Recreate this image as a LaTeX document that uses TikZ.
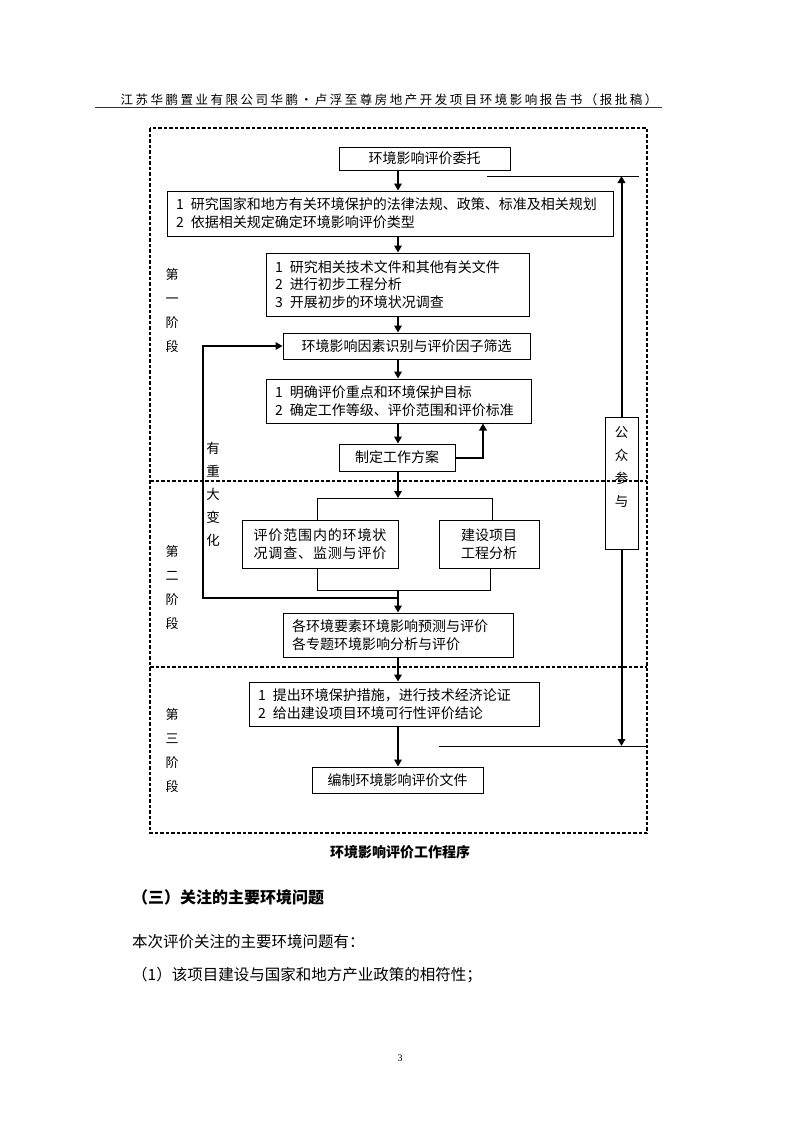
\documentclass[tikz,border=0pt]{standalone}
\usepackage{fontspec}
\setmainfont{Noto Sans CJK SC}
\newfontfamily\cjk{Noto Sans CJK SC}
\newfontfamily\serifnum{Liberation Serif}
\usetikzlibrary{arrows.meta}
\newcommand\bxfont{\cjk\fontsize{14}{18}\selectfont}
\newcommand\nsp{\hspace{7pt}}
\begin{document}
\begin{tikzpicture}[x=1pt,y=-1pt,
  box/.style={draw, line width=1pt, inner sep=0pt, font=\bxfont, align=center},
  lbox/.style={box, align=left, inner xsep=9pt},
  arr/.style={line width=2pt, -{Triangle[length=7pt,width=7.5pt]}},
  thinline/.style={line width=1pt},
  frameline/.style={line width=1.5pt, dash pattern=on 3.5pt off 2pt},
  vlab/.style={font=\cjk\fontsize{13}{24}\selectfont, align=center, inner sep=0pt},
  vlabb/.style={font=\cjk\fontsize{13.5}{23}\selectfont, align=center, inner sep=0pt}
]
\useasboundingbox (0,0) rectangle (800,1132);

% header
\node[font=\cjk\fontsize{12.5}{13}\selectfont\addfontfeature{LetterSpace=20}, inner sep=0pt] (hdr) at (389,100) {江苏华鹏置业有限公司华鹏\,·\,卢浮至尊房地产开发项目环境影响报告书（报批稿）};
\coordinate (hl1) at (95,107);
\coordinate (hl2) at (662,107);
\draw[line width=0.8pt, black!80] (hl1) -- (hl2);

% frame
\draw[frameline] (150,128) rectangle (647,833);
\draw[frameline] (150,481) -- (647,481);
\draw[frameline] (150,667) -- (647,667);

% boxes
\node[box, minimum width=171pt, minimum height=23pt] (b1) at (424.5,158.5) {环境影响评价委托};
\node[lbox, text width=428pt, minimum height=45pt] (b2) at (390,213.5)
  {1\nsp 研究国家和地方有关环境保护的法律法规、政策、标准及相关规划\\2\nsp 依据相关规定确定环境影响评价类型};
\node[lbox, text width=245pt, minimum height=63pt, font=\cjk\fontsize{14}{17.5}\selectfont] (b3) at (397.5,284.5)
  {1\nsp 研究相关技术文件和其他有关文件\\2\nsp 进行初步工程分析\\3\nsp 开展初步的环境状况调查};
\node[box, minimum width=247pt, minimum height=26pt] (b4) at (406.5,346) {环境影响因素识别与评价因子筛选};
\node[lbox, text width=247pt, minimum height=44pt] (b5) at (398.5,401)
  {1\nsp 明确评价重点和环境保护目标\\2\nsp 确定工作等级、评价范围和评价标准};
\node[box, minimum width=116pt, minimum height=27pt] (b6) at (397,457.5) {制定工作方案};
\node[box, minimum width=156pt, minimum height=48pt, font=\cjk\fontsize{14}{18}\selectfont\addfontfeature{LetterSpace=6}] (b7) at (320,544) {评价范围内的环境状\\况调查、监测与评价};
\node[box, minimum width=100pt, minimum height=48pt] (b8) at (489,544) {建设项目\\工程分析};
\node[lbox, text width=212pt, minimum height=44pt] (b9) at (398,635)
  {各环境要素环境影响预测与评价\\各专题环境影响分析与评价};
\node[lbox, text width=272pt, minimum height=44pt] (b10) at (394,704)
  {1\nsp 提出环境保护措施，进行技术经济论证\\2\nsp 给出建设项目环境可行性评价结论};
\node[box, minimum width=171pt, minimum height=26pt] (b11) at (397.5,780) {编制环境影响评价文件};
\node[box, minimum width=33pt, minimum height=132pt] (pz) at (621.5,483) {};
\node[vlabb] (pzt) at (621.5,466.5) {公\\众\\参\\与};

% side labels
\node[vlab] (s1) at (172,311) {第\\一\\阶\\段};
\node[vlab] (s2) at (172,587.5) {第\\二\\阶\\段};
\node[vlab] (s3) at (172,751) {第\\三\\阶\\段};
\node[vlabb] (chg) at (213,494) {有\\重\\大\\变\\化};

% spine connectors
\coordinate (sp) at (398,0);
\draw[arr] (b1.south -| sp) -- (b2.north -| sp);
\draw[arr] (b2.south -| sp) -- (b3.north -| sp);
\draw[arr] (b3.south -| sp) -- (b4.north -| sp);
\draw[arr] (b4.south -| sp) -- (b5.north -| sp);
\draw[arr] (b5.south -| sp) -- (b6.north -| sp);
\coordinate (split) at (398,498);
\draw[arr] (b6.south -| sp) -- (split);
\coordinate (lx) at (483,0);
\draw[arr] (b6.east) -| (b5.south -| lx);

% split / join
\coordinate (xl) at (317,0);
\coordinate (xr) at (492,0);
\coordinate (xr2) at (490,0);
\coordinate (join) at (398,590);
\draw[thinline] (b7.north -| xl) -- (xl |- split) -- (xr |- split) -- (b8.north -| xr);
\draw[thinline] (b7.south -| xl) -- (xl |- join) -- (xr2 |- join) -- (b8.south -| xr2);
\draw[arr] (join) -- (b9.north -| sp);

% feedback
\coordinate (fb) at (398,598);
\coordinate (fx) at (203,0);
\draw[arr] (fb) -- (fx |- fb) -- (fx |- b4.west) -- (b4.west);

\draw[arr] (b9.south -| sp) -- (b10.north -| sp);
\draw[arr, line width=2.6pt] (b10.south -| sp) -- (b11.north -| sp);

% public participation
\coordinate (tl1) at (487,176);
\coordinate (tl2) at (639,176);
\draw[thinline] (tl1) -- (tl2);
\draw[arr] (pz.north) -- (pz.north |- tl1);
\coordinate (bl1) at (439,746);
\coordinate (bl2) at (647,746);
\draw[thinline] (bl1) -- (bl2);
\draw[arr] (pz.south) -- (pz.south |- bl1);

% caption and text
\node[font=\cjk\fontsize{14}{14}\selectfont\bfseries, inner sep=0pt] (cap) at (400,852) {环境影响评价工作程序};
\node[font=\cjk\fontsize{16}{16}\selectfont\bfseries, inner sep=0pt, anchor=west] (sec) at (132,897) {（三）关注的主要环境问题};
\node[font=\cjk\fontsize{15.5}{16}\selectfont, inner sep=0pt, anchor=west] (p1) at (132,942) {本次评价关注的主要环境问题有：};
\node[font=\cjk\fontsize{15.5}{16}\selectfont, inner sep=0pt, anchor=west] (p2) at (132,975) {（1）该项目建设与国家和地方产业政策的相符性；};
\node[font=\serifnum\fontsize{10}{10}\selectfont, inner sep=0pt] (pg) at (400,1058) {3};
\end{tikzpicture}
\end{document}
